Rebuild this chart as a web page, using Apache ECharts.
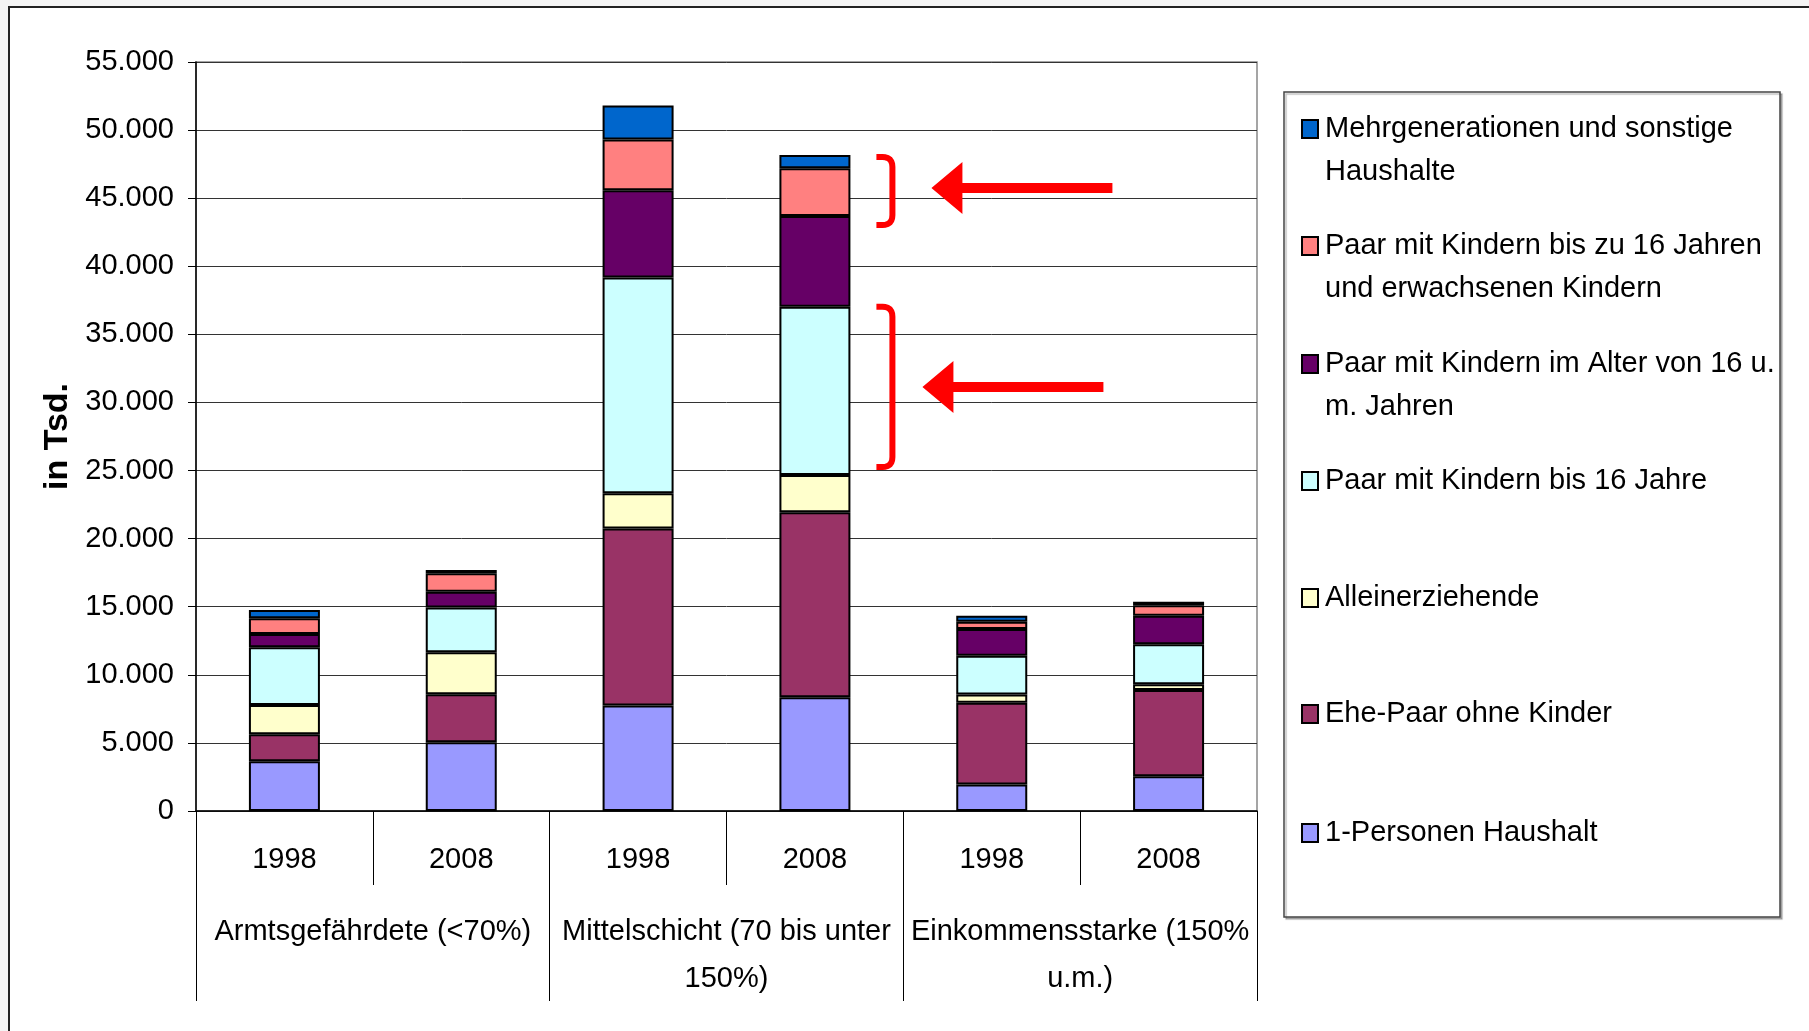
<!DOCTYPE html>
<html>
<head>
<meta charset="utf-8">
<title>Haushalte nach Einkommensschicht</title>
<script src="https://cdn.jsdelivr.net/npm/echarts@6/dist/echarts.min.js"></script>
<style>
    html, body { margin: 0; padding: 0; background: #f4f4f4; overflow: hidden; }
    #frame { position: absolute; left: 8px; top: 6px; width: 1830px; height: 1050px; background: #fff; border: 2px solid #222; }
    #chart { position: absolute; left: 0; top: 0; width: 1809px; height: 1031px; }
</style>
</head>
<body>
<div id="frame"></div>
<div id="chart"></div>
<script>
// Kategorien (Jahr je Säule) und Einkommensgruppen
const years = ['1998', '2008', '1998', '2008', '1998', '2008'];
const groups = ['Armtsgefährdete (<70%)', 'Mittelschicht (70 bis unter\n150%)', 'Einkommensstarke (150%\nu.m.)'];

// Werte in Tsd., Reihenfolge: Armut 98, Armut 08, Mitte 98, Mitte 08, Einkommensstark 98, 08
const einPerson = [3650, 5050, 7750, 8350, 1950, 2550];
const ehePaar = [1980, 3520, 13000, 13580, 6000, 6330];
const alleinerziehend = [2150, 3080, 2580, 2740, 610, 420];
const kinderBis16 = [4240, 3300, 15850, 12360, 2840, 2940];
const kinderAb16 = [980, 1150, 6410, 6660, 1960, 2100];
const kinderMitErw = [1150, 1350, 3720, 3500, 540, 760];
const mehrgen = [610, 240, 2500, 980, 440, 270];

const yTicks = { min: 0, max: 55000, interval: 5000 };

// Reihen von unten nach oben
const seriesNames = [
    '1-Personen Haushalt',
    'Ehe-Paar ohne Kinder',
    'Alleinerziehende',
    'Paar mit Kindern bis 16 Jahre',
    'Paar mit Kindern im Alter von 16 u.\nm. Jahren',
    'Paar mit Kindern bis zu 16 Jahren\nund erwachsenen Kindern',
    'Mehrgenerationen und sonstige\nHaushalte'
];
const seriesData = [einPerson, ehePaar, alleinerziehend, kinderBis16, kinderAb16, kinderMitErw, mehrgen];
const colors = ['#9999ff', '#993366', '#ffffcc', '#ccffff', '#660066', '#ff8080', '#0066cc'];

const FONT = '"Liberation Sans", Arial, sans-serif';
const LH = 43;
// Mitte der ersten Legendenzeile, von oben (Mehrgenerationen) nach unten
const legendLineY = [129, 246, 364, 481, 598, 714, 833];
const legendOrder = [6, 5, 4, 3, 2, 1, 0];

let fmt = v => String(v).replace(/\B(?=(\d{3})+(?!\d))/g, '.');

let legends = legendOrder.map((si, i) => {
    let twoLines = seriesNames[si].indexOf('\n') > -1;
    return {
        data: [seriesNames[si]],
        orient: 'vertical',
        left: 1301,
        top: legendLineY[i] - (twoLines ? LH * 1.5 : LH / 2),
        padding: 0,
        itemGap: 0,
        itemWidth: 16,
        itemHeight: 18,
        icon: 'rect',
        selectedMode: false,
        // leere erste Zeile, damit die erste Textzeile neben dem Symbol steht
        formatter: name => (twoLines ? '\n' + name : name),
        textStyle: {
            fontFamily: FONT,
            fontSize: 29,
            color: '#000',
            lineHeight: LH,
            padding: [0, 0, 0, 2],
            backgroundColor: twoLines ? 'rgba(0,0,0,0)' : undefined
        }
    };
});

let chart = echarts.init(document.getElementById('chart'));

let option = {
    animation: false,
    grid: {
        left: 196, right: 552, top: 62, bottom: 220,
        show: true, borderColor: '#888', borderWidth: 1.5
    },
    legend: legends,
    xAxis: [
        {
            type: 'category',
            data: years,
            position: 'bottom',
            axisLine: { lineStyle: { color: '#000', width: 1.5 } },
            axisTick: { show: true, interval: 0, length: 74, lineStyle: { color: '#000', width: 1 } },
            axisLabel: { interval: 0, margin: 28, fontSize: 29, lineHeight: 42, color: '#000', fontFamily: FONT }
        },
        {
            type: 'category',
            data: groups,
            position: 'bottom',
            axisLine: { show: false },
            axisTick: { show: true, interval: 0, length: 190, lineStyle: { color: '#000', width: 1 } },
            axisLabel: { interval: 0, margin: 97, fontSize: 29, lineHeight: 47, color: '#000', fontFamily: FONT }
        }
    ],
    yAxis: {
        type: 'value',
        min: yTicks.min,
        max: yTicks.max,
        interval: yTicks.interval,
        name: 'in Tsd.',
        nameLocation: 'middle',
        nameRotate: 90,
        nameGap: 120,
        nameTextStyle: { fontFamily: FONT, fontSize: 34, fontWeight: 'bold', color: '#000' },
        axisLine: { show: true, lineStyle: { color: '#000', width: 1.5 } },
        axisTick: { show: true, length: 8, lineStyle: { color: '#000' } },
        axisLabel: { margin: 22, fontSize: 29, color: '#000', fontFamily: FONT, formatter: fmt },
        splitLine: { lineStyle: { color: '#333', width: 1 } }
    },
    series: seriesNames.map((name, i) => ({
        name: name,
        type: 'bar',
        stack: 'gesamt',
        barWidth: 71,
        xAxisIndex: 0,
        data: seriesData[i],
        itemStyle: { color: colors[i], borderColor: '#000', borderWidth: 2 }
    }))
};

chart.setOption(option);

// Annotationen (Klammern und Pfeile) an der Säule Mittelschicht 2008
let idx = 3;
let cum = [];
let acc = 0;
seriesData.forEach(arr => { acc += arr[idx]; cum.push(acc); });
let px = v => chart.convertToPixel({ xAxisIndex: 0, yAxisIndex: 0 }, [idx, v]);

let barRight = px(0)[0] + 71 / 2;
let bx = barRight + 26;

function curve(p0, c, p1, pts) {
    for (let k = 1; k <= 6; k++) {
        let t = k / 6;
        let a = (1 - t) * (1 - t), b = 2 * t * (1 - t), d = t * t;
        pts.push([a * p0[0] + b * c[0] + d * p1[0], a * p0[1] + b * c[1] + d * p1[1]]);
    }
}

function bracket(y0, y1) {
    let r = 10;
    let xv = bx + 16;
    let pts = [[bx, y0], [xv - r, y0]];
    curve([xv - r, y0], [xv, y0], [xv, y0 + r], pts);
    pts.push([xv, y1 - r]);
    curve([xv, y1 - r], [xv, y1], [xv - r, y1], pts);
    pts.push([bx, y1]);
    return {
        type: 'polyline',
        shape: { points: pts },
        style: { fill: null, stroke: '#ff0000', lineWidth: 6, lineJoin: 'round' },
        z: 10
    };
}

function arrow(tx, cy) {
    return {
        type: 'polygon',
        shape: {
            points: [
                [tx, cy], [tx + 31, cy - 26], [tx + 31, cy - 5], [tx + 181, cy - 5],
                [tx + 181, cy + 5], [tx + 31, cy + 5], [tx + 31, cy + 26]
            ]
        },
        style: { fill: '#ff0000' },
        z: 10
    };
}

let b1top = px(cum[6])[1] + 2;
let b1bot = px(cum[4])[1] + 9;
let b2top = px(cum[3])[1];
let b2bot = px(cum[2])[1] - 8;

chart.setOption({
    graphic: [
        {
            type: 'rect',
            shape: { x: 1284, y: 92, width: 496, height: 825 },
            style: { fill: '#fff', stroke: '#444', lineWidth: 1.5, shadowColor: 'rgba(0,0,0,0.25)', shadowOffsetX: 2, shadowOffsetY: 2, shadowBlur: 1 },
            z: -1
        },
        bracket(b1top, b1bot),
        bracket(b2top, b2bot),
        arrow(bx + 55, (b1top + b1bot) / 2 - 3),
        arrow(bx + 46, (b2top + b2bot) / 2)
    ]
});
</script>
</body>
</html>
